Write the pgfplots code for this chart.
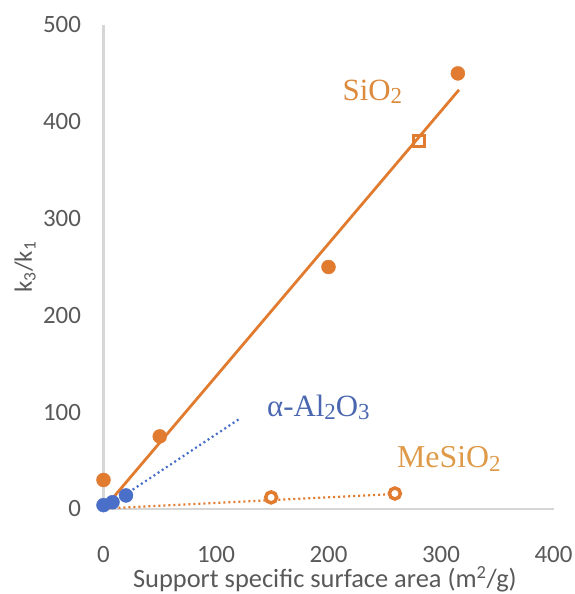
\documentclass[border=0pt]{standalone}
\usepackage{pgfplots}
\pgfplotsset{compat=1.18}
\usepackage{fontspec}
\setmainfont{Carlito}
\newfontfamily\serif{Liberation Serif}
\definecolor{sio}{HTML}{E07B30}
\definecolor{siolab}{HTML}{DC8A3C}
\definecolor{meslab}{HTML}{DE9A48}
\definecolor{alb}{HTML}{4A6FC8}
\definecolor{allab}{HTML}{4A67B0}
\definecolor{tickc}{HTML}{595959}
\definecolor{axc}{HTML}{D6D6D6}
\newcommand{\sub}[1]{\raisebox{-0.25ex}{\fontsize{23}{25}\selectfont #1}}
\begin{document}
\begin{tikzpicture}
\path[use as bounding box] (-103.5bp,-85bp) rectangle (471.5bp,509bp);
\begin{axis}[
  at={(0,0)}, anchor=south west,
  scale only axis, width=450bp, height=484bp,
  xmin=0, xmax=400, ymin=0, ymax=500,
  axis lines=left,
  axis line style={-, draw=axc, line width=2.4bp},
  xtick={0,100,200,300,400}, ytick={0,100,200,300,400,500},
  major tick length=0pt,
  tick label style={font=\fontsize{25}{28}\selectfont, text=tickc},
  /pgf/number format/assume math mode=true,
  xticklabel style={anchor=center, yshift=-46bp},
  yticklabel style={xshift=-19bp},
  xlabel={Support specific surface area (m\textsuperscript{2}/g)},
  ylabel={k\textsubscript{3}/k\textsubscript{1}},
  every axis x label/.style={at={(axis description cs:0.492,-0.146)}, anchor=center, font=\fontsize{26.5}{28}\selectfont, text=tickc},
  every axis y label/.style={at={(axis description cs:-0.174,0.5)}, anchor=center, rotate=90, font=\fontsize{25}{28}\selectfont, text=tickc},
  clip=false,
]
% SiO2 trendline
\addplot[sio, line width=2.8bp] coordinates {(0,0) (316,433)};
% Al2O3 trendline
\addplot[alb, line width=2.2bp, dash pattern=on 2bp off 3bp] coordinates {(0,0) (122,94)};
% MeSiO2 trendline
\addplot[sio, line width=2.2bp, dash pattern=on 2bp off 3bp] coordinates {(0,0.5) (260,15.5)};
% SiO2 points
\addplot[only marks, mark=*, mark size=7bp, mark options={fill=sio, draw=sio}] coordinates {(0,30) (50,75) (200,250) (315,450)};
\addplot[only marks, mark=square, mark size=5.5bp, mark options={draw=sio, line width=3bp, fill=white}] coordinates {(280,380)};
% Al2O3 points
\addplot[only marks, mark=*, mark size=7bp, mark options={fill=alb, draw=alb}] coordinates {(0,4) (8,7) (20,14)};
% MeSiO2 points
\addplot[only marks, mark=*, mark size=5.5bp, mark options={fill=white, draw=sio, line width=3.5bp}] coordinates {(149,12) (259,16)};
\node[text=siolab, font=\serif\fontsize{31}{34}\selectfont] at (axis cs:239,431) {SiO\sub{2}};
\node[text=allab, font=\serif\fontsize{31}{34}\selectfont] at (axis cs:191,105) {α-Al\sub{2}O\sub{3}};
\node[text=meslab, font=\serif\fontsize{32}{34}\selectfont] at (axis cs:307,52) {MeSiO\sub{2}};
\end{axis}
\end{tikzpicture}
\end{document}
